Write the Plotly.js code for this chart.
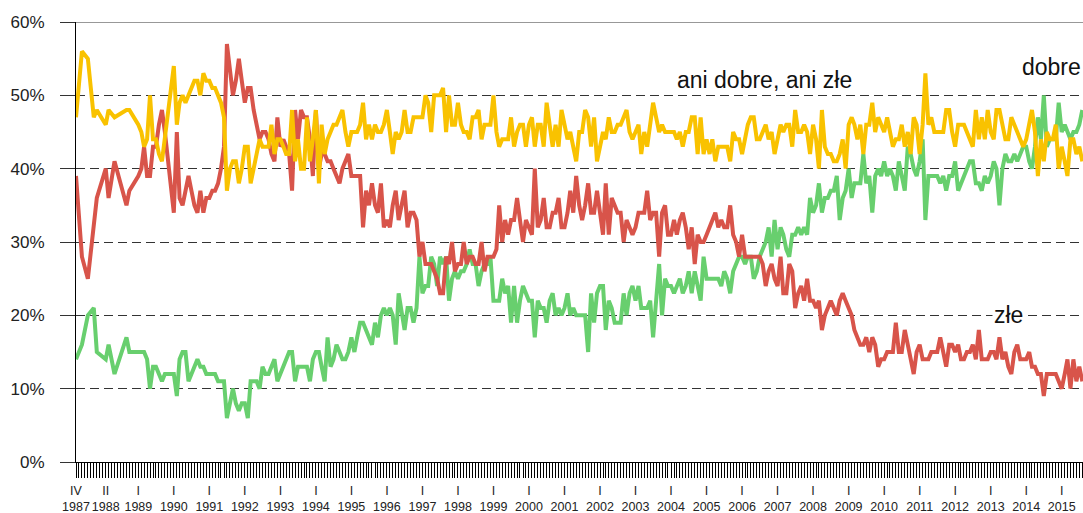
<!DOCTYPE html>
<html>
<head>
<meta charset="utf-8">
<script src="https://cdn.plot.ly/plotly-3.0.0.min.js"></script>
<style>
html,body{margin:0;padding:0;background:#fff;}
#chart{width:1083px;height:513px;}
</style>
</head>
<body>
<div id="chart"></div>
<script>
// Monthly series, first month = April 1987 (null = no survey that month)
const firstMonth = {year: 1987, month: 4};

const aniDobreAniZle = [
  47,null,56,null,55,null,47,48,null,                 // 1987 IV-XII
  null,46,48,null,47,null,null,null,48,48,null,null,  // 1988
  46,45,43,44,50,44,44,42,41,44,47,50,   // 1989
  54,46,49,50,49,50,51,52,52,50,53,52,   // 1990
  52,51,51,50,49,47,37,40,41,41,38,40,   // 1991
  43,43,38,40,42,44,43,43,43,46,42,44,   // 1992
  44,43,42,42,48,41,44,40,40,47,41,44,   // 1993
  48,38,46,42,44,45,46,46,47,48,45,43,   // 1994
  45,45,45,46,49,44,46,44,46,45,45,46,   // 1995
  48,45,42,45,44,45,48,45,45,47,47,47,   // 1996
  47,50,49,45,50,50,50,51,45,50,46,46,   // 1997
  49,46,45,45,44,47,47,48,44,46,46,46,   // 1998
  50,45,43,44,44,44,47,43,45,46,46,43,   // 1999
  46,47,43,46,46,43,49,46,43,46,43,48,   // 2000
  46,44,45,43,41,45,45,48,47,43,47,41,   // 2001
  43,45,44,47,45,45,46,46,47,48,45,44,   // 2002
  45,46,42,45,43,46,49,47,45,46,45,45,   // 2003
  45,45,44,45,43,45,45,47,47,42,47,42,   // 2004
  44,42,44,41,43,43,43,43,41,45,44,44,   // 2005
  42,44,46,47,47,44,44,45,46,44,45,42,   // 2006
  44,46,45,46,46,43,48,45,45,46,45,42,   // 2007
  46,44,40,48,43,42,42,41,41,42,44,40,   // 2008
  46,47,46,44,46,42,46,46,49,45,47,46,   // 2009
  45,47,45,43,44,44,46,43,45,42,47,46,   // 2010
  42,46,53,46,47,45,45,45,45,48,48,45,   // 2011
  43,46,46,46,45,44,43,48,44,47,44,48,   // 2012
  45,44,48,48,46,44,44,47,46,45,44,43,   // 2013
  44,46,48,45,39,44,41,45,44,44,46,40,   // 2014
  43,41,39,44,44,42,43,41                // 2015 I-VIII
];

const zle = [
  39,null,28,null,25,null,32,36,null,                 // 1987
  null,40,36,null,41,null,null,null,35,37,null,null,  // 1988
  39,40,43,39,39,43,43,46,48,45,41,38,   // 1989
  34,45,36,35,37,39,37,35,34,37,34,36,   // 1990
  36,37,37,38,40,43,57,53,50,52,55,52,   // 1991
  49,51,51,48,46,44,45,45,44,42,41,47,   // 1992
  43,44,43,42,37,48,44,48,47,47,44,39,   // 1993
  48,40,42,42,41,41,40,39,38,40,41,42,   // 1994
  39,39,39,39,32,37,35,38,35,34,38,32,   // 1995
  33,32,35,37,33,35,37,32,34,34,33,28,   // 1996
  30,27,27,27,26,25,23,23,28,27,30,26,   // 1997
  27,27,30,27,28,28,27,27,30,26,28,28,   // 1998
  28,29,35,30,33,31,33,33,36,33,30,33,   // 1999
  32,31,40,32,33,36,32,32,34,34,36,32,   // 2000
  32,34,37,34,39,35,33,35,38,34,34,37,   // 2001
  34,31,38,31,36,35,34,34,30,33,32,31,   // 2002
  32,34,34,34,37,33,34,34,28,34,35,31,   // 2003
  31,33,31,33,34,32,29,32,27,31,30,30,   // 2004
  31,32,33,34,32,33,32,32,35,31,30,28,   // 2005
  31,28,28,28,28,28,28,27,24,26,27,25,   // 2006
  24,28,23,23,27,26,21,23,24,22,25,22,   // 2007
  22,21,22,18,20,21,22,21,20,22,23,22,   // 2008
  21,20,18,17,16,16,17,15,17,16,13,14,   // 2009
  14,15,15,15,19,15,15,18,16,14,12,15,   // 2010
  16,14,14,14,15,15,15,17,15,13,16,16,   // 2011
  15,16,14,14,15,15,16,14,18,14,14,14,   // 2012
  15,15,14,17,14,15,13,12,15,16,14,14,   // 2013
  14,15,13,13,12,12,9,12,12,12,12,11,    // 2014
  10,12,14,10,14,11,13,11                // 2015
];

const dobre = [
  14,null,16,null,20,null,21,15,null,                 // 1987
  null,14,16,null,12,null,null,null,17,15,null,null,  // 1988
  15,15,15,14,10,13,13,12,11,12,12,12,   // 1989
  12,9,14,15,15,11,12,13,14,13,13,12,    // 1990
  12,12,12,11,11,11,6,8,10,8,7,8,        // 1991
  8,6,11,11,11,10,13,12,12,13,14,11,     // 1992
  12,13,14,15,15,11,13,13,13,13,11,14,   // 1993
  15,15,13,11,17,13,14,16,15,14,14,15,   // 1994
  17,15,17,19,19,18,17,16,19,17,20,21,   // 1995
  20,21,20,16,23,20,18,21,21,19,21,28,   // 1996
  23,24,24,28,27,24,28,27,28,22,25,26,   // 1997
  25,26,26,27,29,27,27,24,26,27,27,28,   // 1998
  22,22,22,25,23,24,19,24,19,22,24,23,   // 1999
  22,22,17,22,21,21,19,22,23,20,21,20,   // 2000
  21,23,20,21,20,20,20,20,15,23,19,23,   // 2001
  24,24,18,22,21,19,19,19,23,20,23,24,   // 2002
  22,24,21,21,21,22,17,22,27,20,25,24,   // 2003
  24,23,24,25,23,24,26,23,26,24,22,28,   // 2004
  25,25,25,25,25,24,26,25,23,26,27,28,   // 2005
  28,27,28,28,25,26,28,29,30,32,28,33,   // 2006
  29,32,31,29,28,31,31,32,31,32,31,36,   // 2007
  34,35,38,34,36,36,37,37,39,33,36,37,   // 2008
  40,36,38,38,38,42,38,39,34,39,40,39,   // 2009
  41,39,40,39,37,41,39,37,43,42,40,39,   // 2010
  41,44,33,39,39,39,39,38,39,37,39,39,   // 2011
  41,37,38,39,40,41,41,38,38,37,39,38,   // 2012
  39,41,40,35,40,42,41,41,42,41,42,43,   // 2013
  43,41,40,43,47,44,50,43,44,44,44,49,   // 2014
  45,46,45,44,45,45,46,48                // 2015
];

const tickDates = ['1987-04-01','1988-02-01','1989-01-01','1990-01-01','1991-01-01','1992-01-01',
  '1993-01-01','1994-01-01','1995-01-01','1996-01-01','1997-01-01','1998-01-01','1999-01-01',
  '2000-01-01','2001-01-01','2002-01-01','2003-01-01','2004-01-01','2005-01-01','2006-01-01',
  '2007-01-01','2008-01-01','2009-01-01','2010-01-01','2011-01-01','2012-01-01','2013-01-01',
  '2014-01-01','2015-01-01'];
const tickLabels = ['IV<br>1987','II<br>1988','I<br>1989','I<br>1990','I<br>1991','I<br>1992',
  'I<br>1993','I<br>1994','I<br>1995','I<br>1996','I<br>1997','I<br>1998','I<br>1999',
  'I<br>2000','I<br>2001','I<br>2002','I<br>2003','I<br>2004','I<br>2005','I<br>2006',
  'I<br>2007','I<br>2008','I<br>2009','I<br>2010','I<br>2011','I<br>2012','I<br>2013',
  'I<br>2014','I<br>2015'];

const yTickVals = [0,10,20,30,40,50,60];
const yTickText = ['0%','10%','20%','30%','40%','50%','60%'];

const seriesNames = {dobre: 'dobre', ani: 'ani dobre, ani złe', zle: 'złe'};
const colors = {dobre: '#68CF6E', ani: '#F9C200', zle: '#D8544A'};

function monthDate(i) {
  const t = firstMonth.year * 12 + (firstMonth.month - 1) + i;
  const y = Math.floor(t / 12), m = t % 12 + 1;
  return y + '-' + (m < 10 ? '0' + m : m) + '-01';
}
const months = dobre.map((_, i) => monthDate(i));

function trace(y, name, color) {
  return {x: months, y: y, name: name, type: 'scatter', mode: 'lines',
    connectgaps: true, line: {color: color, width: 4, shape: 'linear'},
    hoverinfo: 'skip', showlegend: false};
}

const data = [
  trace(dobre, seriesNames.dobre, colors.dobre),
  trace(zle, seriesNames.zle, colors.zle),
  trace(aniDobreAniZle, seriesNames.ani, colors.ani)
];

const font = 'Liberation Sans, Arial, sans-serif';
const layout = {
  width: 1083, height: 513,
  margin: {l: 76, r: 0, t: 22, b: 51, pad: 0},
  paper_bgcolor: '#fff', plot_bgcolor: '#fff',
  showlegend: false,
  xaxis: {
    type: 'date',
    range: ['1987-04-01', '2015-08-08'],
    tickmode: 'array', tickvals: tickDates, ticktext: tickLabels,
    tickangle: 0, automargin: false,
    ticks: 'outside', ticklen: 15, tickwidth: 1, tickcolor: '#000',
    showline: true, linecolor: '#000', linewidth: 1,
    showgrid: false, zeroline: false,
    tickfont: {family: font, size: 12.5, color: '#222'},
    ticklabelstandoff: 2,
    minor: {dtick: 'M1', tick0: '1987-04-01', ticks: 'outside', ticklen: 15,
            tickwidth: 1, tickcolor: '#000', showgrid: false}
  },
  yaxis: {
    range: [0, 60],
    tickmode: 'array', tickvals: yTickVals, ticktext: yTickText,
    ticks: 'outside', ticklen: 15, tickwidth: 1, tickcolor: '#333',
    showline: true, linecolor: '#000', linewidth: 1,
    showgrid: true, gridcolor: '#333', gridwidth: 1, griddash: '9px,5px',
    zeroline: false, automargin: false,
    tickfont: {family: font, size: 17, color: '#222'},
    ticklabelstandoff: 12
  },
  shapes: [
    {type: 'line', xref: 'paper', yref: 'y', x0: 0, x1: 1, y0: 60, y1: 60,
     line: {color: '#333', width: 1}}
  ],
  annotations: [
    {text: 'ani dobre, ani złe', xref: 'paper', yref: 'paper', x: 0.684, y: 0.868,
     xanchor: 'center', yanchor: 'middle', showarrow: false,
     font: {family: font, size: 23, color: '#111'}},
    {text: 'dobre', xref: 'paper', yref: 'paper', x: 0.969, y: 0.898,
     xanchor: 'center', yanchor: 'middle', showarrow: false,
     font: {family: font, size: 23, color: '#111'}},
    {text: 'złe', xref: 'paper', yref: 'paper', x: 0.9265, y: 0.334,
     xanchor: 'center', yanchor: 'middle', showarrow: false, bgcolor: '#fff', borderpad: 1,
     font: {family: font, size: 23, color: '#111'}}
  ]
};

Plotly.newPlot('chart', data, layout, {displayModeBar: false, staticPlot: true});
</script>
</body>
</html>
